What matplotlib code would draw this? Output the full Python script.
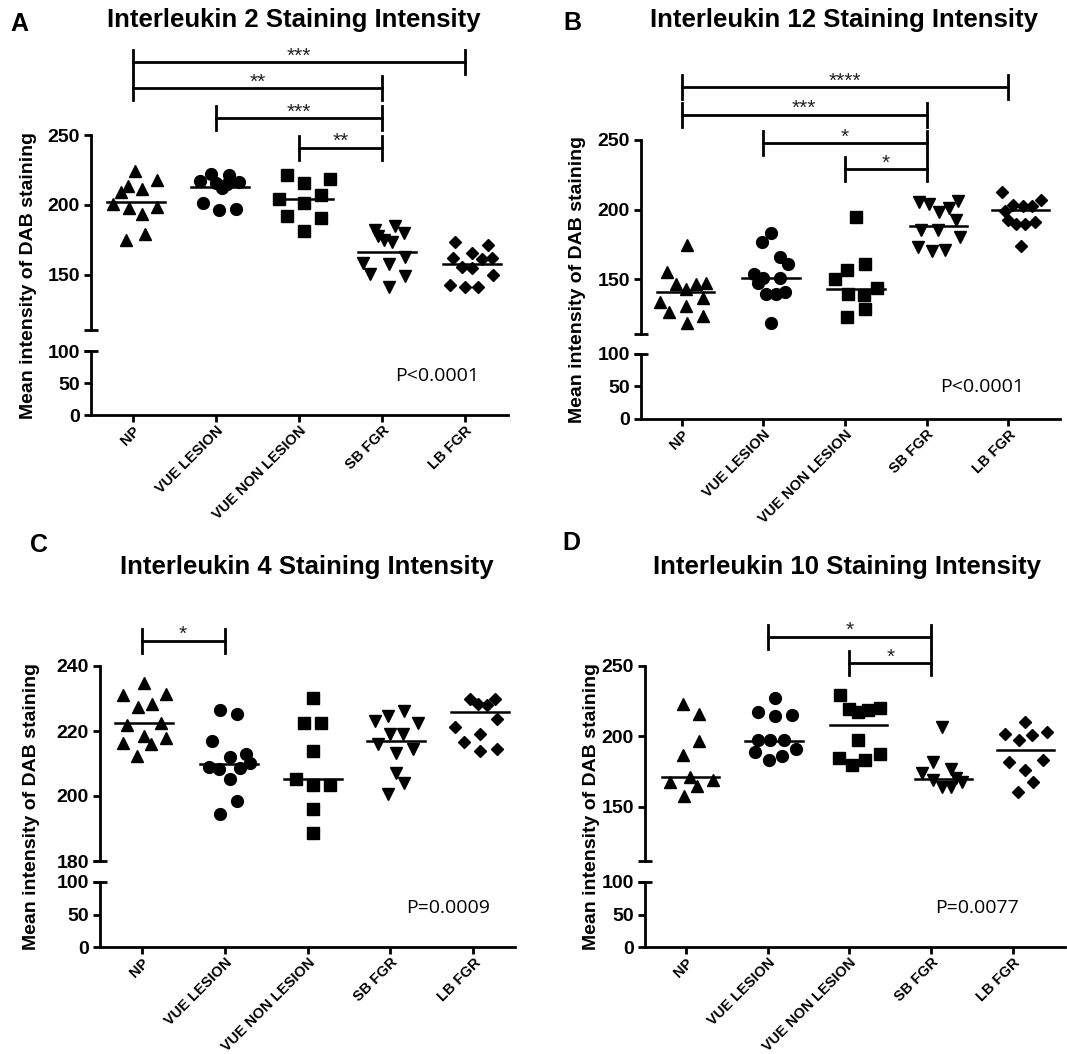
import matplotlib
matplotlib.use('Agg')
import matplotlib.pyplot as plt
import numpy as np

plt.rcParams['font.family'] = ['Liberation Sans', 'DejaVu Sans']

W, H = 1067, 1054

groups = ['NP', 'VUE LESION', 'VUE NON LESION', 'SB FGR', 'LB FGR']
markers = ['^', 'o', 's', 'v', 'D']
msizes = [9, 8.5, 8.5, 9, 6.2]

# ---- Interleukin 2 (A) ----
il2_values = [
    [224.5, 218, 213.5, 211.4, 209.5, 201, 197.6, 198.3, 193.6, 175, 179],
    [217.4, 222.1, 221.4, 216.7, 211.9, 215.5, 215, 201.7, 196.4, 196.9],
    [221.4, 218.3, 216, 207, 204, 201.2, 192, 191, 181.4],
    [182, 185, 179.8, 175, 173.8, 178, 158.3, 157.9, 163, 151, 149, 141.7],
    [173.8, 171.4, 166, 161.9, 161.2, 162, 155.9, 154.8, 150, 142.9, 141.7, 141.7],
]
il2_dx = [
    [0.03, 0.29, -0.06, 0.11, -0.14, -0.24, -0.05, 0.29, 0.11, -0.08, 0.14],
    [-0.19, -0.06, 0.16, 0.28, 0.07, 0.0, 0.13, -0.16, 0.04, 0.24],
    [-0.14, 0.37, 0.06, 0.27, -0.24, 0.06, -0.14, 0.27, 0.06],
    [-0.08, 0.16, 0.26, 0.02, 0.12, -0.05, -0.23, 0.08, 0.28, -0.14, 0.28, 0.08],
    [-0.12, 0.28, 0.08, -0.14, 0.2, 0.32, -0.04, 0.08, 0.34, -0.18, 0.0, 0.16],
]
il2_medians = [202.4, 213, 204, 166.7, 157.9]
il2_brackets = [(1, 5, 302, '***'), (1, 4, 283.5, '**'), (2, 4, 262, '***'), (3, 4, 241, '**')]

# ---- Interleukin 12 (B) ----
il12_values = [
    [174.4, 155.2, 146.2, 146.4, 146.9, 142.6, 133.7, 130.6, 136.2, 126.5, 123.5, 118.7],
    [183.2, 176.8, 166, 160.8, 153.6, 150.5, 150.5, 146.9, 139.2, 139.2, 140.9, 118.7],
    [194.7, 160.8, 156.5, 149.8, 143.3, 139, 138.5, 128.3, 123],
    [205.5, 204.3, 206.2, 201.4, 198.3, 192.8, 185.6, 185.2, 180.4, 173.2, 170.3, 170.8],
    [212.6, 207.2, 203.1, 202.6, 202.4, 199, 192.3, 189.5, 190, 191.1, 173.7],
]
il12_dx = [
    [0.06, -0.18, -0.07, 0.18, 0.3, 0.05, -0.27, 0.05, 0.26, -0.15, 0.26, 0.06],
    [0.09, -0.02, 0.2, 0.3, -0.11, 0.0, 0.2, -0.07, 0.03, 0.15, 0.27, 0.09],
    [0.13, 0.24, 0.03, -0.12, 0.39, 0.04, 0.23, 0.24, 0.03],
    [-0.09, 0.03, 0.38, 0.27, 0.15, 0.36, -0.07, 0.14, 0.41, -0.1, 0.06, 0.23],
    [-0.08, 0.4, 0.06, 0.18, 0.29, -0.04, 0.0, 0.1, 0.2, 0.33, 0.16],
]
il12_medians = [140.5, 151, 142.8, 188, 200]
il12_brackets = [(1, 5, 287.8, '****'), (1, 4, 268, '***'), (2, 4, 247.6, '*'), (3, 4, 229, '*')]

# ---- Interleukin 4 (C) ----
il4_values = [
    [234.9, 231, 231.5, 227.5, 228.2, 221.8, 222.4, 216.4, 218.5, 215.9, 217.7, 212.3],
    [226.4, 225.3, 216.9, 212, 212.8, 209, 208.4, 208.7, 210.3, 205.3, 198.5, 194.6],
    [230.3, 222.4, 222.4, 213.8, 205.3, 203.3, 203.3, 195.9, 188.5],
    [226.2, 223.1, 224.6, 222.4, 219, 219, 215.9, 213.3, 214.4, 207.2, 204.1, 200.5],
    [230, 230, 228.2, 227.9, 221.3, 223.6, 219.2, 216.6, 213.7, 214.4],
]
il4_dx = [
    [0.03, -0.23, 0.29, -0.05, 0.12, -0.18, 0.23, -0.23, 0.03, 0.11, 0.29, -0.06],
    [-0.05, 0.15, -0.15, 0.06, 0.26, -0.19, -0.07, 0.18, 0.31, 0.06, 0.15, -0.05],
    [0.07, -0.04, 0.16, 0.07, -0.14, 0.07, 0.27, 0.07, 0.07],
    [0.17, -0.19, -0.03, 0.33, -0.01, 0.15, -0.15, 0.07, 0.27, 0.07, 0.17, -0.03],
    [-0.04, 0.26, 0.06, 0.17, -0.22, 0.28, 0.08, -0.11, 0.08, 0.28],
]
il4_medians = [222.4, 209.8, 205.3, 216.9, 225.8]
il4_brackets = [(1, 2, 247.7, '*')]

# ---- Interleukin 10 (D) ----
il10_values = [
    [223.2, 216.1, 196.4, 186.5, 167.5, 171.1, 168.7, 164.5, 157.4],
    [227.5, 217.3, 214.2, 215.4, 197.6, 197.6, 197.2, 191.2, 188.8, 182.9, 185.8],
    [229.1, 219.7, 217, 218.5, 220.4, 197.6, 184.6, 187.7, 182.9, 179.4],
    [206.6, 181.7, 177, 173.9, 170.5, 168.7, 167.5, 164, 164],
    [210.2, 201.9, 197.2, 200.7, 203.1, 181.7, 176.3, 182.9, 167.5, 160.4],
]
il10_dx = [
    [-0.04, 0.16, 0.16, -0.04, -0.2, 0.05, 0.33, 0.14, -0.03],
    [0.09, -0.12, 0.09, 0.3, -0.12, 0.03, 0.2, 0.35, -0.16, 0.01, 0.18],
    [-0.12, -0.01, 0.11, 0.23, 0.37, 0.11, -0.13, 0.37, 0.19, 0.03],
    [0.14, 0.03, 0.24, -0.11, 0.31, 0.02, 0.38, 0.13, 0.24],
    [0.15, -0.09, 0.08, 0.24, 0.42, -0.04, 0.15, 0.37, 0.25, 0.06],
]
il10_medians = [171.1, 196.7, 207.8, 169.9, 190.5]
il10_brackets = [(2, 4, 270.6, '*'), (3, 4, 252.1, '*')]

fig = plt.figure(figsize=(W / 100, H / 100), dpi=100)


def rect(l, r, t, b):
    return [l / W, 1 - b / H, (r - l) / W, (b - t) / H]


def ftext(x, y, s, **kw):
    fig.text(x / W, 1 - y / H, s, **kw)


def style(ax):
    for side in ['top', 'right']:
        ax.spines[side].set_visible(False)
    for sp in ax.spines.values():
        sp.set_linewidth(2)
    ax.tick_params(axis='both', width=2, length=5, pad=3)
    ax.tick_params(axis='x', pad=1)
    for lab in ax.get_yticklabels():
        lab.set_fontsize(14)
        lab.set_fontweight('bold')


def panel(letter, title, values, dx, medians, brackets, ptext, lay):
    l, r = lay['l'], lay['r']
    ut, ub = lay['up']
    lt, lb = lay['low']
    xlim = lay['xlim']
    ylo, yhi = lay['ylim']

    up = fig.add_axes(rect(l, r, ut, ub))
    up.set_xlim(*xlim)
    up.set_ylim(ylo, yhi)
    up.set_yticks(lay['yticks'])
    style(up)
    up.spines['bottom'].set_visible(False)
    up.set_xticks([])

    for i in range(5):
        x = i + 1 + np.array(dx[i])
        up.plot(x, values[i], linestyle='none', marker=markers[i], ms=msizes[i],
                color='black', clip_on=False)
        c = i + 1 + np.mean(dx[i])
        up.plot([c - 0.35, c + 0.35], [medians[i], medians[i]], color='black', lw=1.8)

    # break marks
    up.plot([xlim[0]], [ylo], marker='_', ms=10, mew=2, color='black', clip_on=False)

    ppu = (ub - ut) / (yhi - ylo)
    cap = 12 / ppu
    for a, b, y, s in brackets:
        up.plot([a, b], [y, y], color='black', lw=2, clip_on=False)
        up.plot([a, a], [y - cap, y + cap], color='black', lw=2, clip_on=False)
        up.plot([b, b], [y - cap, y + cap], color='black', lw=2, clip_on=False)
        up.annotate(s, xy=((a + b) / 2, y), xytext=(0, 0.5), textcoords='offset points',
                    ha='center', va='baseline', fontsize=15, color='#222222',
                    annotation_clip=False)

    low = fig.add_axes(rect(l, r, lt, lb))
    low.set_xlim(*xlim)
    low.set_ylim(0, 100)
    low.set_yticks([0, 50, 100])
    low.set_xticks(range(1, 6))
    low.set_xticklabels(groups, rotation=45, ha='right', rotation_mode='anchor',
                        fontsize=10.5, fontweight='bold')
    style(low)
    low.plot([xlim[0]], [100], marker='_', ms=10, mew=2, color='black', clip_on=False)

    ftext(lay['title'][0], lay['title'][1], title, ha='center', va='center',
          fontsize=18.5, fontweight='bold')
    ftext(lay['letter'][0], lay['letter'][1], letter, ha='left', va='center',
          fontsize=18, fontweight='bold')
    ftext(lay['ylab'], (ut + lb) / 2, 'Mean intensity of DAB staining', rotation=90,
          ha='center', va='center', fontsize=14, fontweight='bold')
    ftext(lay['p'][0], lay['p'][1], ptext, ha='center', va='center', fontsize=14,
          family=['Open Sans', 'DejaVu Sans'])


panel('A', 'Interleukin 2 Staining Intensity', il2_values, il2_dx, il2_medians,
      il2_brackets, 'P<0.0001',
      dict(l=91, r=508, up=(135, 330), low=(351, 415), xlim=(0.494, 5.518),
           ylim=(110.7, 250), yticks=[150, 200, 250], title=(294, 20),
           letter=(10, 24), ylab=29, p=(437, 376)))

panel('B', 'Interleukin 12 Staining Intensity', il12_values, il12_dx, il12_medians,
      il12_brackets, 'P<0.0001',
      dict(l=641, r=1060, up=(140, 334), low=(354, 419), xlim=(0.502, 5.633),
           ylim=(110.6, 250), yticks=[150, 200, 250], title=(844, 20),
           letter=(563, 23), ylab=577, p=(982, 387)))

panel('C', 'Interleukin 4 Staining Intensity', il4_values, il4_dx, il4_medians,
      il4_brackets, 'P=0.0009',
      dict(l=100, r=515, up=(666, 861), low=(882, 947), xlim=(0.497, 5.503),
           ylim=(180, 240), yticks=[180, 200, 220, 240], title=(307, 567),
           letter=(30, 545), ylab=32, p=(448, 908)))

panel('D', 'Interleukin 10 Staining Intensity', il10_values, il10_dx, il10_medians,
      il10_brackets, 'P=0.0077',
      dict(l=645, r=1065, up=(666, 861), low=(882, 947), xlim=(0.498, 5.64),
           ylim=(111.4, 250), yticks=[150, 200, 250], title=(847, 567),
           letter=(562, 543), ylab=592, p=(977, 908)))

fig.savefig('out.png', dpi=100, facecolor='white')
